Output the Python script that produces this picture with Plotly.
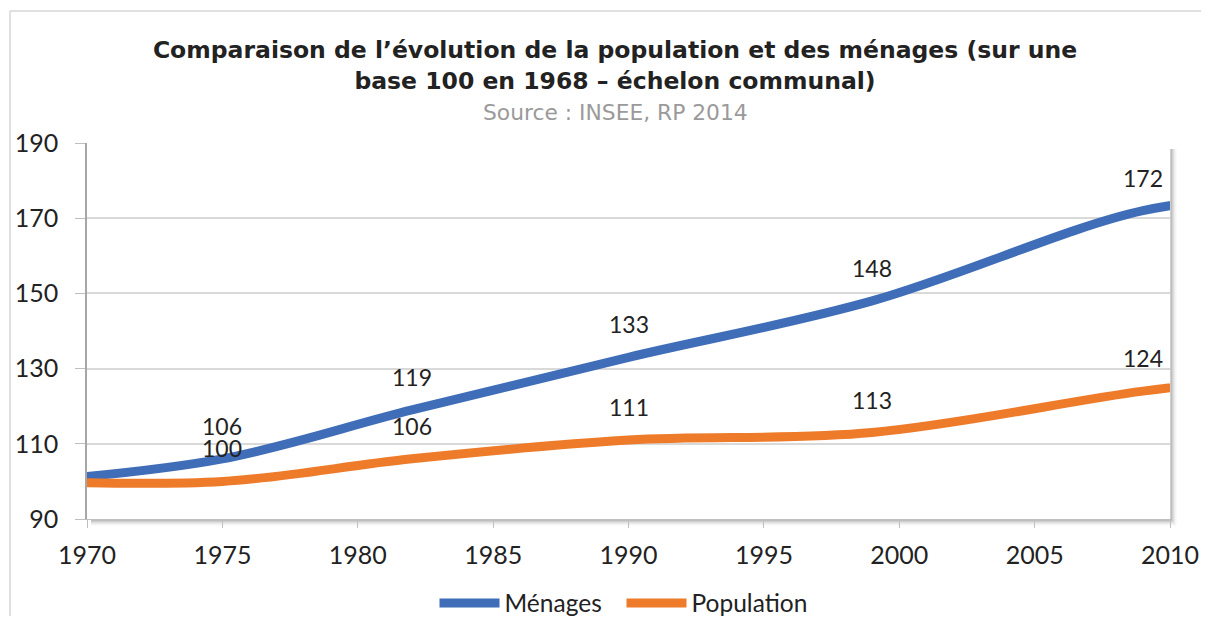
import plotly.graph_objects as go

# Comparaison population / ménages, base 100 en 1968
annees = [1968, 1975, 1982, 1990, 1999, 2009, 2014]
menages = [100, 106, 119, 133, 148, 172, 176]
population = [100, 100, 106, 111, 113, 124, 128]
annees_labels = [1975, 1982, 1990, 1999, 2009]

bleu = "#3F6DB8"
orange = "#EE7B2A"

# la page ajoute 8 px de marge autour de la figure
W, H = 1193, 608
L, R, T, B = 79, 31, 135, 97
pw, ph = W - L - R, H - T - B

fig = go.Figure([
    go.Scatter(x=annees, y=menages, mode="lines", name="Ménages",
               line=dict(color=bleu, width=9, shape="spline", smoothing=1.0)),
    go.Scatter(x=annees, y=population, mode="lines", name="Population",
               line=dict(color=orange, width=9, shape="spline", smoothing=1.0)),
])

# étiquettes de données
annotations = []
for serie in (menages, population):
    for a, v in zip(annees, serie):
        if a in annees_labels:
            annotations.append(dict(x=a, y=v, text=str(v), showarrow=False,
                                    yshift=33, yanchor="middle",
                                    font=dict(family="Lato", size=23, color="#222222")))

annotations.append(dict(text="Source : INSEE, RP 2014", xref="paper", yref="paper",
                        x=(615 - 87) / pw, y=(519 - 112) / ph,
                        showarrow=False, yanchor="middle",
                        font=dict(family="DejaVu Sans", size=21.8, color="#9a9a9a")))

shapes = []
# cadre extérieur du graphique
shapes.append(dict(type="line", xref="paper", yref="paper",
                   x0=(10 - 87) / pw, x1=(10 - 87) / pw, y0=(519 - 640) / ph, y1=(519 - 11) / ph,
                   line=dict(color="#d6d6d6", width=1.5)))
shapes.append(dict(type="line", xref="paper", yref="paper",
                   x0=(10 - 87) / pw, x1=(1220 - 87) / pw, y0=(519 - 11) / ph, y1=(519 - 11) / ph,
                   line=dict(color="#d6d6d6", width=1.5)))
# ombre de la zone de traçage
for i, c in enumerate(["#9a9a9a", "#b0b0b0", "#c6c6c6", "#dadada", "#ebebeb", "#f5f5f5"]):
    dx = (i + 1) / pw
    dy = (i + 1) / ph
    shapes.append(dict(type="line", xref="paper", yref="paper", layer="below",
                       x0=1 + dx, x1=1 + dx, y0=-dy, y1=1 - 6 / ph,
                       line=dict(color=c, width=1)))
    shapes.append(dict(type="line", xref="paper", yref="paper", layer="below",
                       x0=4 / pw, x1=1 + dx, y0=-dy, y1=-dy,
                       line=dict(color=c, width=1)))

fig.update_layout(
    width=W, height=H,
    margin=dict(l=L, r=R, t=T, b=B, autoexpand=False),
    paper_bgcolor="white", plot_bgcolor="white",
    title=dict(text="Comparaison de l’évolution de la population et des ménages (sur une<br>base 100 en 1968 – échelon communal)",
               x=(615 - 8) / W, xanchor="center", y=1 - 50 / H, yanchor="top",
               font=dict(family="DejaVu Sans", size=23.5, color="#222222", weight="bold")),
    xaxis=dict(range=[1970, 2010], tickmode="linear", tick0=1970, dtick=5, automargin=False,
               showgrid=False, zeroline=False, showline=True, linecolor="#bfbfbf",
               ticks="outside", ticklen=8, tickcolor="#bfbfbf", ticklabelstandoff=6,
               tickfont=dict(family="Lato", size=25, color="#222222")),
    yaxis=dict(range=[90, 190], tickmode="linear", tick0=90, dtick=20, automargin=False,
               showgrid=True, gridcolor="#d9d9d9", gridwidth=1.5, zeroline=False,
               showline=True, linecolor="#a6a6a6", linewidth=1.5,
               ticks="outside", ticklen=10, tickcolor="#bfbfbf", ticklabelstandoff=12,
               tickfont=dict(family="Lato", size=25, color="#222222")),
    legend=dict(orientation="h", x=0.5 - 7 / pw, xanchor="center", y=(519 - 603) / ph, yanchor="middle",
                font=dict(family="Lato", size=24.5, color="#222222"),
                itemwidth=60, entrywidth=112),
    annotations=annotations,
    shapes=shapes,
    showlegend=True,
)

fig.write_html("out.html")
